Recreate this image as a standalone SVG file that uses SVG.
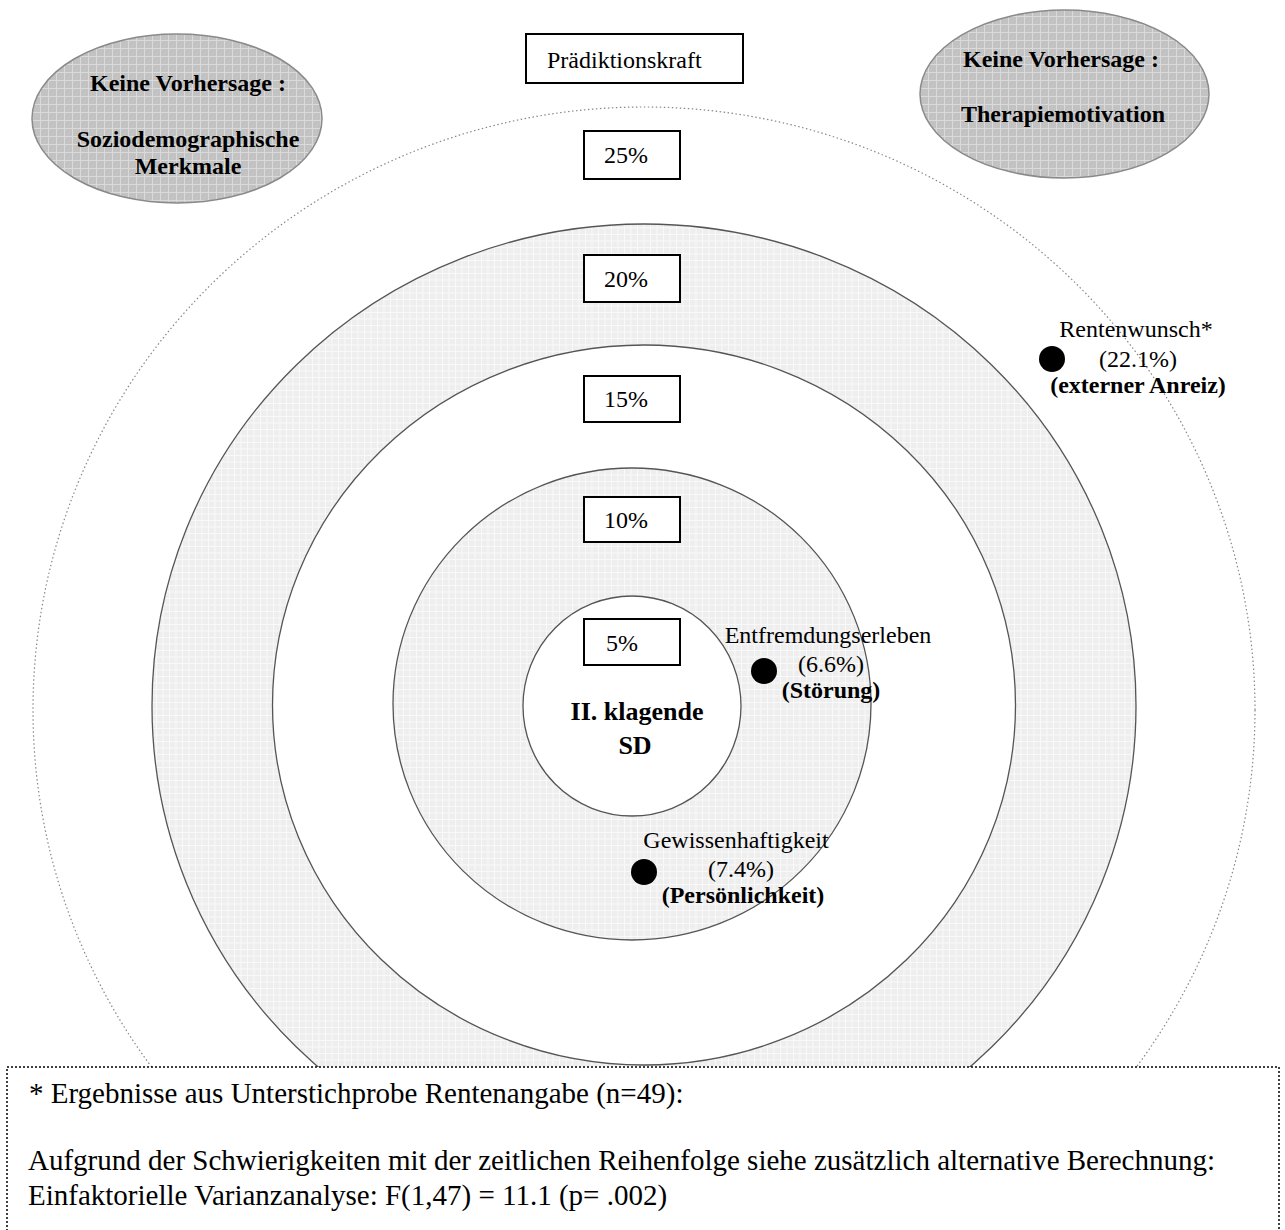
<svg xmlns="http://www.w3.org/2000/svg" width="1285" height="1230" viewBox="0 0 1285 1230">
<defs>
<pattern id="lightgrid" width="6.5" height="6.5" patternUnits="userSpaceOnUse"><rect width="6.5" height="6.5" fill="#eeeeee"/><path d="M0 0.5H6.5M0.5 0V6.5" stroke="#f9f9f9" stroke-width="1"/></pattern>
<pattern id="darkgrid" width="8" height="8" patternUnits="userSpaceOnUse"><rect width="8" height="8" fill="#c2c2c2"/><path d="M0 0.5H8M0.5 0V8" stroke="#dadada" stroke-width="1"/></pattern>
<style>
text{font-family:"Liberation Serif","Times New Roman",serif;fill:#000}
.r{font-size:24px}
.b{font-size:24px;font-weight:bold}
.m{text-anchor:middle}
.ring{stroke:#555;stroke-width:1.3}
.grey{fill:url(#lightgrid)}
.white{fill:#fff}
.pbox{fill:#fff;stroke:#000;stroke-width:2}
.oval{fill:url(#darkgrid);stroke:#8a8a8a;stroke-width:1.5}
.dot{fill:#000}
.foot{font-size:29px}
</style>
</defs>
<rect width="1285" height="1230" fill="#fff"/>
<g id="rings">
<ellipse id="ring25" cx="644" cy="710" rx="611" ry="603" fill="#fff" stroke="#888" stroke-width="1.2" stroke-dasharray="1.5 2.5"/>
<ellipse id="ring20" class="ring grey" cx="644" cy="706" rx="492" ry="482"/>
<ellipse id="ring15" class="ring white" cx="644" cy="705" rx="371.5" ry="360"/>
<ellipse id="ring10" class="ring grey" cx="632" cy="704" rx="239" ry="236"/>
<ellipse id="ring5" class="ring white" cx="632" cy="706" rx="109" ry="110"/>
</g>
<g id="center-label">
<text class="m" x="637" y="720" style="font-size:26px;font-weight:bold">II. klagende</text>
<text class="m" x="635" y="754" style="font-size:26px;font-weight:bold">SD</text>
</g>
<g id="praediktionskraft">
<rect class="pbox" x="526" y="34" width="217" height="49"/>
<text class="r" x="547" y="68">Prädiktionskraft</text>
</g>
<g id="box25"><rect class="pbox" x="584" y="131" width="96" height="48"/><text class="r" x="604" y="163">25%</text></g>
<g id="box20"><rect class="pbox" x="584" y="255" width="96" height="47"/><text class="r" x="604" y="287">20%</text></g>
<g id="box15"><rect class="pbox" x="584" y="376" width="96" height="46"/><text class="r" x="604" y="407">15%</text></g>
<g id="box10"><rect class="pbox" x="584" y="497" width="96" height="45"/><text class="r" x="604" y="528">10%</text></g>
<g id="box5"><rect class="pbox" x="584" y="619" width="96" height="46"/><text class="r" x="606" y="651">5%</text></g>
<g id="oval-left">
<ellipse class="oval" cx="177" cy="118.5" rx="145" ry="84.5"/>
<text class="b m" x="188" y="91">Keine Vorhersage :</text>
<text class="b m" x="188" y="147">Soziodemographische</text>
<text class="b m" x="188" y="174">Merkmale</text>
</g>
<g id="oval-right">
<ellipse class="oval" cx="1064.5" cy="94" rx="144.5" ry="84"/>
<text class="b m" x="1061" y="67">Keine Vorhersage :</text>
<text class="b m" x="1063" y="122">Therapiemotivation</text>
</g>
<g id="entfremdung">
<circle class="dot" cx="764" cy="671" r="13"/>
<text class="r m" x="828" y="643">Entfremdungserleben</text>
<text class="r m" x="831" y="672">(6.6%)</text>
<text class="b m" x="831" y="698">(Störung)</text>
</g>
<g id="gewissenhaftigkeit">
<circle class="dot" cx="644" cy="872" r="13"/>
<text class="r m" x="736" y="848">Gewissenhaftigkeit</text>
<text class="r m" x="741" y="877">(7.4%)</text>
<text class="b m" x="743" y="903">(Persönlichkeit)</text>
</g>
<g id="rentenwunsch">
<circle class="dot" cx="1052" cy="359" r="13"/>
<text class="r m" x="1136" y="337">Rentenwunsch*</text>
<text class="r m" x="1138" y="367">(22.1%)</text>
<text class="b m" x="1138" y="393">(externer Anreiz)</text>
</g>
<g id="footnote">
<rect x="7" y="1067" width="1272" height="180" fill="#fff" stroke="#000" stroke-width="1.5" stroke-dasharray="2 2"/>
<text class="foot" x="29" y="1103">* Ergebnisse aus Unterstichprobe Rentenangabe (n=49):</text>
<text class="foot" x="28" y="1170">Aufgrund der Schwierigkeiten mit der zeitlichen Reihenfolge siehe zusätzlich alternative Berechnung:</text>
<text class="foot" x="28" y="1205">Einfaktorielle Varianzanalyse: F(1,47) = 11.1 (p= .002)</text>
</g>
</svg>
